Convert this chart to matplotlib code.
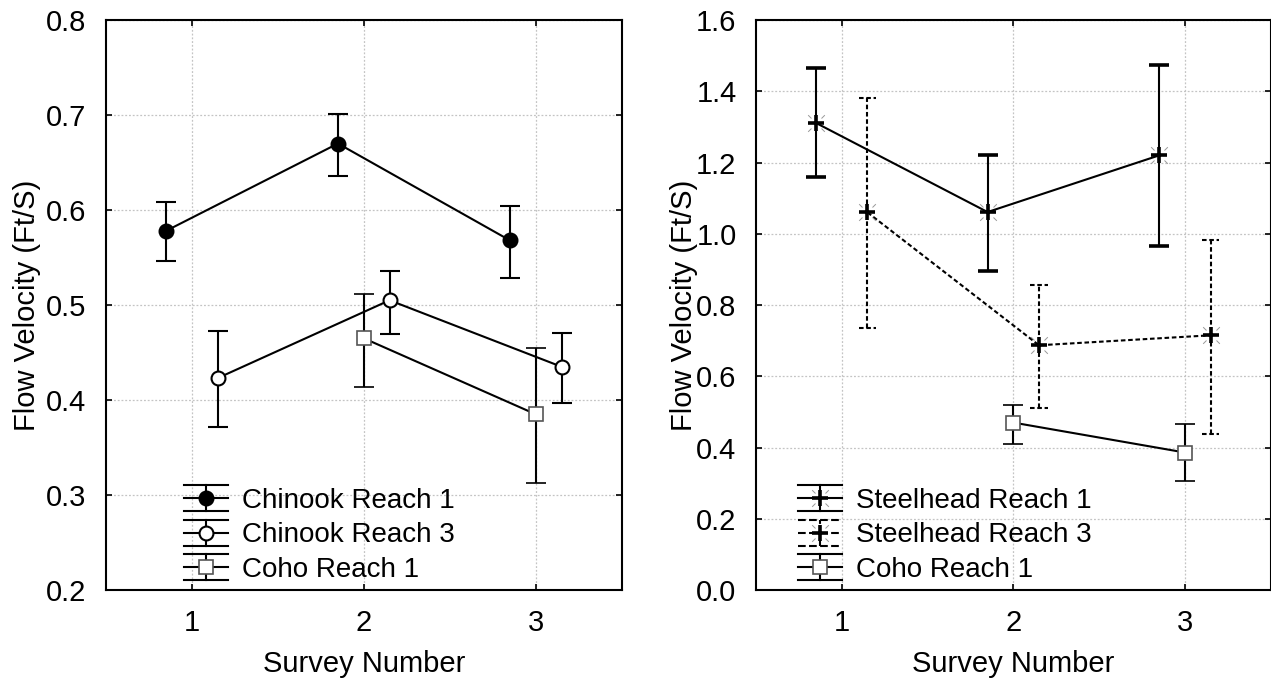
import numpy as np
import matplotlib.pyplot as plt
from matplotlib.lines import Line2D
from matplotlib.path import Path
from matplotlib.legend_handler import HandlerBase

plt.rcParams['font.family'] = ['Liberation Sans', 'DejaVu Sans']

# survey positions
surveys = np.array([1, 2, 3])
offset = 0.15

# Chinook / Coho (left panel): mean, upper and lower limits
chinook_r1 = [0.578, 0.670, 0.568]
chinook_r1_hi = [0.608, 0.701, 0.604]
chinook_r1_lo = [0.546, 0.636, 0.528]

chinook_r3 = [0.423, 0.505, 0.435]
chinook_r3_hi = [0.473, 0.536, 0.471]
chinook_r3_lo = [0.372, 0.470, 0.397]

coho_left_x = np.array([2, 3])
coho_left = [0.465, 0.385]
coho_left_hi = [0.512, 0.455]
coho_left_lo = [0.414, 0.313]

# Steelhead / Coho (right panel)
steel_r1 = [1.311, 1.061, 1.220]
steel_r1_hi = [1.464, 1.222, 1.475]
steel_r1_lo = [1.158, 0.895, 0.965]

steel_r3 = [1.060, 0.687, 0.715]
steel_r3_hi = [1.382, 0.855, 0.982]
steel_r3_lo = [0.735, 0.512, 0.438]

coho_right_x = np.array([2, 3])
coho_right = [0.470, 0.386]
coho_right_hi = [0.520, 0.466]
coho_right_lo = [0.411, 0.305]

LW = 1.5
DASH = (0, (2.2, 1.3))

# little diagonal strokes drawn around the "+" marker
tips = Path([(0.6, 0.6), (1, 1), (-0.6, 0.6), (-1, 1),
             (0.6, -0.6), (1, -1), (-0.6, -0.6), (-1, -1)],
            [Path.MOVETO, Path.LINETO] * 4)


class ErrorbarKey(HandlerBase):
    """Legend key: line with marker, vertical bar and full-width caps."""

    def create_artists(self, legend, orig_handle, xdescent, ydescent,
                       width, height, fontsize, trans):
        main = orig_handle[0]
        ls = main.get_linestyle()
        x0, x1 = -xdescent, -xdescent + width
        xm = (x0 + x1) / 2
        yc = -ydescent + height / 2
        half = 0.47 * fontsize
        arts = [Line2D([x0, x1], [y, y], color='black', lw=LW, ls=ls)
                for y in (yc - half, yc, yc + half)]
        arts.append(Line2D([xm, xm], [yc - half, yc + half], color='black',
                           lw=LW, ls=ls))
        for h in orig_handle:
            arts.append(Line2D([xm], [yc], ls='none', marker=h.get_marker(),
                               ms=h.get_markersize(), mfc=h.get_markerfacecolor(),
                               mec=h.get_markeredgecolor(),
                               mew=h.get_markeredgewidth()))
        for a in arts:
            a.set_transform(trans)
        return arts


def style_axes(ax):
    ax.set_xlim(0.5, 3.5)
    ax.set_xticks([1, 2, 3])
    ax.grid(True, color='#c4c4c4', linestyle=(0, (1.5, 1.5)), linewidth=0.9)
    ax.set_axisbelow(True)
    ax.tick_params(direction='in', length=4, width=1.2, top=True, right=True,
                   labelsize=21, pad=14, colors='black')
    for s in ax.spines.values():
        s.set_linewidth(1.5)
    ax.set_xlabel('Survey Number', fontsize=21)
    ax.set_ylabel('Flow Velocity (Ft/S)', fontsize=21)
    ax.xaxis.set_label_coords(0.5, -0.105)


def draw_series(ax, x, y, hi, lo, marker, ms, mfc, mec='black', mew=1.5,
                ls='-', dashed_bars=False):
    y = np.asarray(y)
    err = [y - np.asarray(lo), np.asarray(hi) - y]
    eb = ax.errorbar(x, y, yerr=err, color='black', lw=LW, ls=ls,
                     elinewidth=LW, capsize=0 if dashed_bars else 7,
                     capthick=LW, marker=marker, ms=ms, mfc=mfc, mec=mec,
                     mew=mew, zorder=3)
    if dashed_bars:
        eb.lines[2][0].set_linestyle(DASH)
        ax.hlines(hi, x - 0.05, x + 0.05, color='black', lw=LW,
                  linestyles=[DASH], zorder=3)
        ax.hlines(lo, x - 0.05, x + 0.05, color='black', lw=LW,
                  linestyles=[DASH], zorder=3)
    return eb.lines[0]


def add_key(ax, handles, labels, x):
    ax.legend(handles, labels, handler_map={tuple: ErrorbarKey()},
              loc='upper left', bbox_to_anchor=(x, 0.179), frameon=False,
              fontsize=20, borderpad=0, borderaxespad=0, labelspacing=0.3,
              handlelength=1.58, handletextpad=0.5)


fig = plt.figure(figsize=(12.71, 6.81), dpi=100)
ax1 = fig.add_axes([0.0832, 0.1336, 0.406, 0.837])
ax2 = fig.add_axes([0.5948, 0.1336, 0.4049, 0.837])

# left panel
style_axes(ax1)
ax1.set_ylim(0.2, 0.8)
ax1.set_yticks(np.arange(0.2, 0.81, 0.1))
ax1.set_yticklabels([f'{v:.1f}' for v in np.arange(0.2, 0.81, 0.1)])
ax1.yaxis.set_label_coords(-0.125, 0.5)

h_c1 = draw_series(ax1, surveys - offset, chinook_r1, chinook_r1_hi, chinook_r1_lo,
                   'o', 10, 'black')
h_c3 = draw_series(ax1, surveys + offset, chinook_r3, chinook_r3_hi, chinook_r3_lo,
                   'o', 10, 'white')
h_co = draw_series(ax1, coho_left_x, coho_left, coho_left_hi, coho_left_lo,
                   's', 10.5, 'white', mec='#555555', mew=1.2)

add_key(ax1, [(h_c1,), (h_c3,), (h_co,)],
        ['Chinook Reach 1', 'Chinook Reach 3', 'Coho Reach 1'], 0.152)

# right panel
style_axes(ax2)
ax2.set_ylim(0.0, 1.6)
ax2.set_yticks(np.arange(0.0, 1.61, 0.2))
ax2.set_yticklabels([f'{v:.1f}' for v in np.arange(0.0, 1.61, 0.2)])
ax2.yaxis.set_label_coords(-0.113, 0.5)

h_s1 = draw_series(ax2, surveys - offset, steel_r1, steel_r1_hi, steel_r1_lo,
                   '+', 11, 'black', mew=2.6)
t_s1, = ax2.plot(surveys - offset, steel_r1, ls='none', marker=tips, ms=12,
                 mec='#999999', mew=0.7, zorder=4)
h_s3 = draw_series(ax2, surveys + offset, steel_r3, steel_r3_hi, steel_r3_lo,
                   '+', 11, 'black', mew=2.6, ls=DASH, dashed_bars=True)
t_s3, = ax2.plot(surveys + offset, steel_r3, ls='none', marker=tips, ms=12,
                 mec='#999999', mew=0.7, zorder=4)
h_co2 = draw_series(ax2, coho_right_x, coho_right, coho_right_hi, coho_right_lo,
                    's', 10.5, 'white', mec='#555555', mew=1.2)

add_key(ax2, [(h_s1, t_s1), (h_s3, t_s3), (h_co2,)],
        ['Steelhead Reach 1', 'Steelhead Reach 3', 'Coho Reach 1'], 0.0816)

fig.savefig('out.png', dpi=100)
